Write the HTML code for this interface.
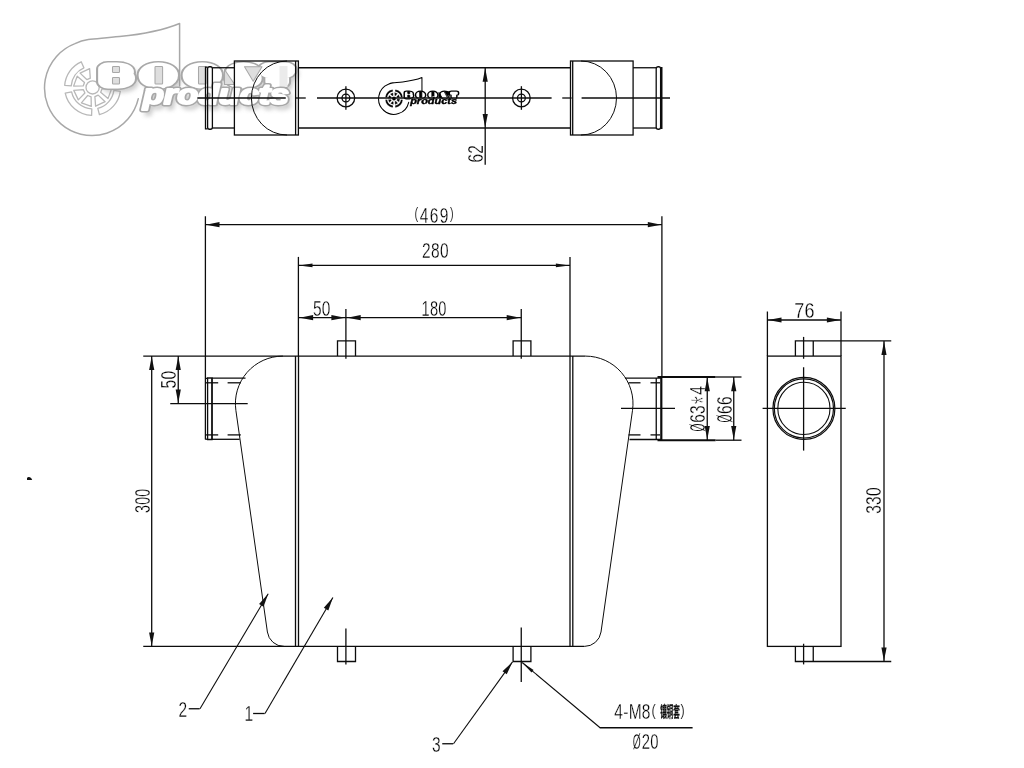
<!DOCTYPE html>
<html lang="en">
<head>
<meta charset="utf-8">
<title>Intercooler drawing</title>
<style>
html,body{margin:0;padding:0;background:#fff;}
body{width:1024px;height:768px;overflow:hidden;}
svg{display:block;}
.d line,.d path,.d rect,.d circle{fill:none;stroke:#0c0c0c;stroke-width:1.3;}
.d .ar{fill:#111;stroke:none;}
.d text{font-family:"Liberation Sans","Noto Sans CJK SC",sans-serif;fill:#000;stroke:#fff;stroke-width:0.3px;paint-order:fill stroke;letter-spacing:0.4px;}
.d .par{stroke-width:0.2px;}
.d .ast{stroke-width:1.0px;}
.d .c{font-family:"Liberation Sans","Noto Sans CJK SC",sans-serif;fill:#111;stroke:#111;stroke-width:0.3px;font-weight:bold;letter-spacing:0;}
</style>
</head>
<body>
<svg width="1024" height="768" viewBox="0 0 1024 768">
<rect width="1024" height="768" fill="#fff"/>
<defs><filter id="wblur" x="-20%" y="-50%" width="140%" height="200%"><feGaussianBlur stdDeviation="2.2"/></filter></defs>
<g opacity="0.999"><g transform="translate(0,0)" fill="none" stroke-linejoin="round" stroke-linecap="round">
<path d="M179.6,86 V23.5 C165,29.5 140,34.5 119.5,36.6 C106,38 96,38.6 88.25,39.5 C83,40.2 79,41.6 75,43.65 A47.5,47.5 0 1 0 138.3,98.7" stroke="#a8a8a8" stroke-width="1.5"/>
<path d="M120.3,91.3 A28,28 0 0 1 99.4,114.6 L97.8,108.3 A21.5,21.5 0 0 0 113.9,90.4 Z" stroke="#b8b8b8" stroke-width="1.3" fill="#ffffff"/>
<path d="M91.6,115.4 A28,28 0 0 1 65.2,93.2 L71.6,91.9 A21.5,21.5 0 0 0 91.8,108.9 Z" stroke="#b8b8b8" stroke-width="1.3" fill="#ffffff"/>
<path d="M64.7,85.4 A28,28 0 0 1 81.2,61.8 L83.9,67.8 A21.5,21.5 0 0 0 71.2,85.9 Z" stroke="#b8b8b8" stroke-width="1.3" fill="#ffffff"/>
<polygon points="102.0,88.9 111.6,88.7 108.0,98.6 100.7,92.3" stroke="#b8b8b8" stroke-width="1.3" fill="#ffffff"/>
<polygon points="98.2,95.1 105.1,101.7 95.6,106.2 94.9,96.6" stroke="#b8b8b8" stroke-width="1.3" fill="#ffffff"/>
<polygon points="91.1,96.8 91.3,106.4 81.4,102.8 87.7,95.5" stroke="#b8b8b8" stroke-width="1.3" fill="#ffffff"/>
<polygon points="84.9,93.0 78.3,99.9 73.8,90.4 83.4,89.7" stroke="#b8b8b8" stroke-width="1.3" fill="#ffffff"/>
<polygon points="83.2,85.9 73.6,86.1 77.2,76.2 84.5,82.5" stroke="#b8b8b8" stroke-width="1.3" fill="#ffffff"/>
<polygon points="87.0,79.7 80.1,73.1 89.6,68.6 90.3,78.2" stroke="#b8b8b8" stroke-width="1.3" fill="#ffffff"/>
<circle cx="92.6" cy="87.4" r="6.6" stroke="#b8b8b8" stroke-width="1.3" fill="#ffffff"/>
<g filter="url(#wblur)" opacity="0.42" transform="translate(3.5,4.5)" font-family="Liberation Sans, sans-serif" font-weight="bold" fill="#8a8a8a" stroke="#8a8a8a" stroke-linejoin="round"><text transform="scale(1.5,1)" x="77.47 105.53 134.87 162.4 184.8" y="81.6" font-size="19" text-anchor="middle" stroke-width="13">BOOST</text><text x="143" y="104" font-size="27" textLength="146" lengthAdjust="spacingAndGlyphs" font-style="italic" stroke-width="2">products</text></g>
<text transform="scale(1.5,1)" x="77.47 105.53 134.87 162.40 184.80" y="81.6" font-size="19" text-anchor="middle" font-family="Liberation Sans, sans-serif" font-weight="bold" stroke="#a8a8a8" stroke-width="15.80" fill="#a8a8a8">BOOST</text>
<text transform="scale(1.5,1)" x="77.47 105.53 134.87 162.40 184.80" y="81.6" font-size="19" text-anchor="middle" font-family="Liberation Sans, sans-serif" font-weight="bold" stroke="#ffffff" stroke-width="13.00" fill="#ffffff">BOOST</text>
<rect x="112.5" y="66.5" width="7.0" height="6" rx="0.8" fill="#dedede" stroke="#a8a8a8" stroke-width="1.04"/>
<rect x="112.5" y="77.5" width="7.0" height="6.5" rx="0.8" fill="#dedede" stroke="#a8a8a8" stroke-width="1.04"/>
<rect x="155.0" y="66.5" width="7.6" height="17.5" rx="0.8" fill="#dedede" stroke="#a8a8a8" stroke-width="1.04"/>
<rect x="198.5" y="66.5" width="7.6" height="17.5" rx="0.8" fill="#dedede" stroke="#a8a8a8" stroke-width="1.04"/>
<path d="M224.5,69.5 L234.0,83.5 V84.5 H224.5 Z" fill="#dedede" stroke="#a8a8a8" stroke-width="1.04"/>
<path d="M244.5,66.7 H262.0 L253.2,81.3 Z" fill="#dedede" stroke="#a8a8a8" stroke-width="1.04"/>
<rect x="279.5" y="66" width="8" height="21" fill="#ebebeb" stroke="none"/>
<text x="143" y="104" font-size="27" textLength="146" lengthAdjust="spacingAndGlyphs" font-family="Liberation Sans, sans-serif" font-weight="bold" font-style="italic" stroke="#a8a8a8" stroke-width="4.8" fill="#a8a8a8">products</text>
<text x="143" y="104" font-size="27" textLength="146" lengthAdjust="spacingAndGlyphs" font-family="Liberation Sans, sans-serif" font-weight="bold" font-style="italic" stroke="#ffffff" stroke-width="2.0" fill="#ffffff">products</text>
</g></g>

<g opacity="0.999"><g transform="translate(364.3,69.9) scale(0.321,0.328)" fill="none" stroke-linejoin="round" stroke-linecap="round">
<path d="M179.6,86 V23.5 C165,29.5 140,34.5 119.5,36.6 C106,38 96,38.6 88.25,39.5 C83,40.2 79,41.6 75,43.65 A47.5,47.5 0 1 0 138.3,98.7" stroke="#000" stroke-width="3.2"/>
<path d="M120.3,91.3 A28,28 0 0 1 96.5,115.1 L95.6,108.7 A21.5,21.5 0 0 0 113.9,90.4 Z" stroke="#fff" stroke-width="1.0" fill="#000"/>
<path d="M88.7,115.1 A28,28 0 0 1 64.9,91.3 L71.3,90.4 A21.5,21.5 0 0 0 89.6,108.7 Z" stroke="#fff" stroke-width="1.0" fill="#000"/>
<path d="M64.9,83.5 A28,28 0 0 1 88.7,59.7 L89.6,66.1 A21.5,21.5 0 0 0 71.3,84.4 Z" stroke="#fff" stroke-width="1.0" fill="#000"/>
<path d="M96.5,59.7 A28,28 0 0 1 120.3,83.5 L113.9,84.4 A21.5,21.5 0 0 0 95.6,66.1 Z" stroke="#fff" stroke-width="1.0" fill="#000"/>
<polygon points="102.0,88.9 111.6,88.7 108.0,98.6 100.7,92.3" stroke="#fff" stroke-width="1.0" fill="#000"/>
<polygon points="98.2,95.1 105.1,101.7 95.6,106.2 94.9,96.6" stroke="#fff" stroke-width="1.0" fill="#000"/>
<polygon points="91.1,96.8 91.3,106.4 81.4,102.8 87.7,95.5" stroke="#fff" stroke-width="1.0" fill="#000"/>
<polygon points="84.9,93.0 78.3,99.9 73.8,90.4 83.4,89.7" stroke="#fff" stroke-width="1.0" fill="#000"/>
<polygon points="83.2,85.9 73.6,86.1 77.2,76.2 84.5,82.5" stroke="#fff" stroke-width="1.0" fill="#000"/>
<polygon points="87.0,79.7 80.1,73.1 89.6,68.6 90.3,78.2" stroke="#fff" stroke-width="1.0" fill="#000"/>
<polygon points="94.1,78.0 93.9,68.4 103.8,72.0 97.5,79.3" stroke="#fff" stroke-width="1.0" fill="#000"/>
<polygon points="100.3,81.8 106.9,74.9 111.4,84.4 101.8,85.1" stroke="#fff" stroke-width="1.0" fill="#000"/>
<circle cx="92.6" cy="87.4" r="6.6" stroke="#fff" stroke-width="1.0" fill="#000"/>
<text transform="scale(1.308,1)" x="106.09 134.16 163.49 191.02 213.42" y="81.6" font-size="19" text-anchor="middle" font-family="Liberation Sans, sans-serif" font-weight="bold" stroke="#000" stroke-width="14.70" fill="#000">BOOST</text>
<text transform="scale(1.308,1)" x="106.09 134.16 163.49 191.02 213.42" y="81.6" font-size="19" text-anchor="middle" font-family="Liberation Sans, sans-serif" font-weight="bold" stroke="#fff" stroke-width="7.50" fill="#fff">BOOST</text>
<rect x="135.5" y="66.5" width="6.1" height="6" rx="0.8" fill="#000" stroke="#000" stroke-width="2.5600000000000005"/>
<rect x="135.5" y="77.5" width="6.1" height="6.5" rx="0.8" fill="#000" stroke="#000" stroke-width="2.5600000000000005"/>
<rect x="172.6" y="66.5" width="6.6" height="17.5" rx="0.8" fill="#000" stroke="#000" stroke-width="2.5600000000000005"/>
<rect x="210.5" y="66.5" width="6.6" height="17.5" rx="0.8" fill="#000" stroke="#000" stroke-width="2.5600000000000005"/>
<path d="M233.2,69.5 L241.5,83.5 V84.5 H233.2 Z" fill="#000" stroke="#000" stroke-width="2.5600000000000005"/>
<path d="M250.6,66.7 H265.9 L258.2,81.3 Z" fill="#000" stroke="#000" stroke-width="2.5600000000000005"/>
<text x="143" y="104" font-size="27" textLength="146" lengthAdjust="spacingAndGlyphs" font-family="Liberation Sans, sans-serif" font-weight="bold" font-style="italic" stroke="#fff" stroke-width="4" fill="#fff">products</text>
<text x="143" y="104" font-size="27" textLength="146" lengthAdjust="spacingAndGlyphs" font-family="Liberation Sans, sans-serif" font-weight="bold" font-style="italic" stroke="#000" stroke-width="1.2" fill="#000">products</text>
</g></g>

<g class="d" opacity="0.999">
<text class="t" transform="translate(483.2,162.6) rotate(-90) scale(0.69,1)" font-size="22.5" text-anchor="start">62</text>
<text class="t" transform="translate(705.4,431.6) rotate(-90) scale(0.69,1)" font-size="22.5" text-anchor="start"><tspan textLength="11.8" lengthAdjust="spacingAndGlyphs">Ø</tspan><tspan x="12.75" y="0">63</tspan><tspan class="ast" font-size="36" x="39.6" y="9.4" textLength="11.97" lengthAdjust="spacingAndGlyphs">*</tspan><tspan x="53.3" y="0">4</tspan></text>
<text class="t" transform="translate(731.7,422.6) rotate(-90) scale(0.69,1)" font-size="22.5" text-anchor="start"><tspan textLength="11.8" lengthAdjust="spacingAndGlyphs">Ø</tspan><tspan x="12.46" y="0">66</tspan></text>
<text class="t" transform="translate(175.6,388.5) rotate(-90) scale(0.69,1)" font-size="22.5" text-anchor="start">50</text>
<text class="t" transform="translate(149.6,512.9) rotate(-90) scale(0.63,1)" font-size="22.5" text-anchor="start">300</text>
<text class="t" transform="translate(414.4,222.6) scale(0.69,1)" font-size="22.5" text-anchor="start"><tspan font-size="16" dy="-3.2" stroke-width="0.2">(</tspan><tspan dy="3.2" dx="2" letter-spacing="2">469</tspan><tspan font-size="16" dy="-3.2" dx="0.5" stroke-width="0.2">)</tspan></text>
<text class="t" transform="translate(422.1,258.2) scale(0.69,1)" font-size="22.5" text-anchor="start">280</text>
<text class="t" transform="translate(312.9,315.8) scale(0.69,1)" font-size="22.5" text-anchor="start">50</text>
<text class="t" transform="translate(421.5,315.6) scale(0.65,1)" font-size="22.5" text-anchor="start">180</text>
<text class="t" transform="translate(178.6,716.5) scale(0.69,1)" font-size="22.5" text-anchor="start">2</text>
<text class="t" transform="translate(244.5,721.2) scale(0.69,1)" font-size="22.5" text-anchor="start">1</text>
<text class="t" transform="translate(432,751.9) scale(0.69,1)" font-size="22.5" text-anchor="start">3</text>
<text class="t" transform="translate(614.3,718.8) scale(0.69,1)" font-size="22.5" text-anchor="start">4-M8<tspan class="par" font-size="16" x="54.06" y="-3.2" textLength="6.58" lengthAdjust="spacingAndGlyphs">(</tspan><tspan class="c" font-size="14.3" x="66.5" y="-1.9" textLength="28.6" lengthAdjust="spacingAndGlyphs">镶铜套</tspan><tspan class="par" font-size="16" x="96.1" y="-3.2" textLength="6.58" lengthAdjust="spacingAndGlyphs">)</tspan></text>
<text class="t" transform="translate(632.8,749.2) scale(0.66,1)" font-size="22.5" text-anchor="start"><tspan textLength="12.3" lengthAdjust="spacingAndGlyphs">Ø</tspan><tspan x="13.6" y="0">20</tspan></text>
<text class="t" transform="translate(794.3,317.7) scale(0.8,1)" font-size="22.5" text-anchor="start">76</text>
<text class="t" transform="translate(881.1,513.8) rotate(-90) scale(0.69,1)" font-size="22.5" text-anchor="start">330</text>
<line x1="298.4" y1="67.75" x2="570.5" y2="67.75"/>
<line x1="298.4" y1="128" x2="570.5" y2="128"/>
<rect x="234.4" y="61" width="64.0" height="74"/>
<line x1="295.6" y1="61" x2="295.6" y2="135"/>
<path d="M287,61 A35.6,37 0 0 0 287,135" style="stroke-width:1.0" />
<line x1="212.4" y1="67.75" x2="234.4" y2="67.75"/>
<line x1="212.4" y1="128" x2="234.4" y2="128"/>
<rect x="207.6" y="66.75" width="4.8" height="62.5" rx="2"/>
<path d="M207.6,67.2 H205.5 V128.8 H207.6" />
<rect x="570.5" y="61" width="62.6" height="74"/>
<line x1="572.7" y1="61" x2="572.7" y2="135"/>
<path d="M581,61 A35.5,37 0 0 1 581,135" style="stroke-width:1.0" />
<line x1="633.1" y1="67.75" x2="656.2" y2="67.75"/>
<line x1="633.1" y1="128" x2="656.2" y2="128"/>
<rect x="656.2" y="66.75" width="4.4" height="62.5" rx="2"/>
<line x1="661.7" y1="67" x2="661.7" y2="129" style="stroke-width:1.6"/>
<circle cx="345.9" cy="98" r="8.8"/>
<circle cx="345.9" cy="98" r="3.9"/>
<line x1="345.9" y1="86.2" x2="345.9" y2="109.8"/>
<circle cx="521.4" cy="98" r="8.8"/>
<circle cx="521.4" cy="98" r="3.9"/>
<line x1="521.4" y1="86.2" x2="521.4" y2="109.8"/>
<line x1="197.4" y1="98" x2="285.75" y2="98"/>
<line x1="295.2" y1="98" x2="305.75" y2="98"/>
<line x1="317" y1="98" x2="551.6" y2="98"/>
<line x1="562.25" y1="98" x2="571.6" y2="98"/>
<line x1="581.6" y1="98" x2="670" y2="98"/>
<line x1="485.2" y1="67.75" x2="485.2" y2="164.75"/>
<polygon class="ar" points="485.20,68.30 487.80,81.80 482.60,81.80"/>
<polygon class="ar" points="485.20,127.50 482.60,114.00 487.80,114.00"/>
<line x1="143.25" y1="356.1" x2="585.5" y2="356.1"/>
<line x1="143.25" y1="646.4" x2="584.4" y2="646.4"/>
<line x1="295.5" y1="356.1" x2="295.5" y2="646.4"/>
<line x1="298.5" y1="356.1" x2="298.5" y2="646.4"/>
<line x1="570" y1="356.1" x2="570" y2="646.4"/>
<line x1="572.8" y1="356.1" x2="572.8" y2="646.4"/>
<line x1="205.4" y1="216.25" x2="205.4" y2="439.5"/>
<line x1="298.4" y1="256.9" x2="298.4" y2="356.1"/>
<line x1="570" y1="256.9" x2="570" y2="356.1"/>
<line x1="661.9" y1="216.25" x2="661.9" y2="377"/>
<path d="M282.9,356.1 A47.5,47.5 0 0 0 235.87,410.28 L267.4,632 A16.7,16.7 0 0 0 284,646.4" style="stroke-width:1.0" />
<path d="M585.5,356.1 A47.5,47.5 0 0 1 632.53,410.28 L601.0,632 A16.7,16.7 0 0 1 584.4,646.4" style="stroke-width:1.0" />
<line x1="212" y1="378.2" x2="245.5" y2="378.2"/>
<line x1="212" y1="439.3" x2="239.6" y2="439.3"/>
<path d="M212,378 H207.6 V439.5 H212 Z" />
<path d="M207.6,378.4 H205.4" />
<path d="M207.6,439.2 H205.4" />
<line x1="212" y1="378" x2="212" y2="439.5"/>
<line x1="205.4" y1="382.8" x2="218.2" y2="382.8"/>
<line x1="227.6" y1="382.8" x2="240.8" y2="382.8"/>
<line x1="205.4" y1="434.9" x2="218.2" y2="434.9"/>
<line x1="227.6" y1="434.9" x2="240.8" y2="434.9"/>
<line x1="625" y1="378.2" x2="661.9" y2="378.2"/>
<line x1="629.5" y1="439.5" x2="661.9" y2="439.5"/>
<line x1="656.25" y1="378" x2="656.25" y2="439.7"/>
<line x1="661.3" y1="377" x2="661.3" y2="440.2" style="stroke-width:2.2"/>
<line x1="628.5" y1="382.8" x2="640.5" y2="382.8"/>
<line x1="650.5" y1="382.8" x2="660" y2="382.8"/>
<line x1="628.5" y1="434.9" x2="640.5" y2="434.9"/>
<line x1="650.5" y1="434.9" x2="660" y2="434.9"/>
<line x1="621" y1="408.45" x2="675" y2="408.45"/>
<line x1="657.5" y1="377" x2="715.6" y2="377" style="stroke-width:2.0"/>
<line x1="715.6" y1="377" x2="741.5" y2="377"/>
<line x1="657.5" y1="440.2" x2="715.6" y2="440.2" style="stroke-width:2.0"/>
<line x1="715.6" y1="440.2" x2="741.5" y2="440.2"/>
<line x1="707.25" y1="377" x2="707.25" y2="440.2"/>
<polygon class="ar" points="707.25,377.80 709.85,391.30 704.65,391.30"/>
<polygon class="ar" points="707.25,439.50 704.65,426.00 709.85,426.00"/>
<line x1="733.75" y1="377" x2="733.75" y2="440.2"/>
<polygon class="ar" points="733.75,377.80 736.35,391.30 731.15,391.30"/>
<polygon class="ar" points="733.75,439.50 731.15,426.00 736.35,426.00"/>
<line x1="170.25" y1="403.6" x2="247.7" y2="403.6"/>
<line x1="178.25" y1="356.1" x2="178.25" y2="403.6"/>
<polygon class="ar" points="178.25,356.60 180.85,370.10 175.65,370.10"/>
<polygon class="ar" points="178.25,403.10 175.65,389.60 180.85,389.60"/>
<line x1="151.7" y1="356.1" x2="151.7" y2="646.4"/>
<polygon class="ar" points="151.70,356.60 154.30,370.10 149.10,370.10"/>
<polygon class="ar" points="151.70,645.90 149.10,632.40 154.30,632.40"/>
<path d="M337.5,356.1 V340.9 H355.5 V356.1" />
<path d="M337.5,646.4 V661.5 H355.5 V646.4" />
<line x1="345.9" y1="309" x2="345.9" y2="358.75"/>
<path d="M513.1,356.1 V340.9 H530.9 V356.1" />
<path d="M513.1,646.4 V661.5 H530.9 V646.4" />
<line x1="521.25" y1="309" x2="521.25" y2="358.75"/>
<line x1="345.9" y1="628.5" x2="345.9" y2="664.4"/>
<line x1="521.25" y1="627.5" x2="521.25" y2="681.9"/>
<line x1="205.4" y1="224.7" x2="661.9" y2="224.7"/>
<polygon class="ar" points="206.00,224.70 219.50,222.10 219.50,227.30"/>
<polygon class="ar" points="661.30,224.70 647.80,227.30 647.80,222.10"/>
<line x1="298.4" y1="265.4" x2="570" y2="265.4"/>
<polygon class="ar" points="299.00,265.40 312.50,263.60 312.50,267.20"/>
<polygon class="ar" points="569.40,265.40 555.90,267.20 555.90,263.60"/>
<line x1="298.4" y1="317.7" x2="521.25" y2="317.7"/>
<polygon class="ar" points="299.60,317.70 313.10,315.10 313.10,320.30"/>
<polygon class="ar" points="344.90,317.70 331.40,320.30 331.40,315.10"/>
<polygon class="ar" points="347.20,317.70 360.70,315.10 360.70,320.30"/>
<polygon class="ar" points="520.20,317.70 506.70,320.30 506.70,315.10"/>
<path d="M268.2,593.7 L200,708.75" style="stroke-width:1.1" />
<path d="M199.7,708.75 H188.75" />
<polygon class="ar" points="268.20,593.70 263.55,606.64 259.08,603.99"/>
<path d="M332.9,597.5 L265,713.5" style="stroke-width:1.1" />
<path d="M264.7,713.5 H253.1" />
<polygon class="ar" points="332.90,597.50 328.32,610.46 323.84,607.84"/>
<path d="M512.5,661.9 L453.5,743.75" style="stroke-width:1.1" />
<path d="M453.2,743.75 H442.25" />
<polygon class="ar" points="512.50,661.90 506.72,674.37 502.50,671.33"/>
<path d="M522.2,662.5 L600.1,727.75" style="stroke-width:1.1" />
<path d="M599.8000000000001,727.75 H692.6" />
<polygon class="ar" points="522.20,662.50 533.58,669.94 531.52,672.40"/>
<rect x="767.4" y="356.1" width="73.6" height="290.3"/>
<line x1="767.4" y1="311.5" x2="767.4" y2="356.1"/>
<line x1="841" y1="311.5" x2="841" y2="356.1"/>
<line x1="767.4" y1="320" x2="841" y2="320"/>
<polygon class="ar" points="768.00,320.00 781.50,317.40 781.50,322.60"/>
<polygon class="ar" points="840.40,320.00 826.90,322.60 826.90,317.40"/>
<path d="M795.4,356.1 V340.9 H891.25" />
<line x1="813.25" y1="340.9" x2="813.25" y2="356.1"/>
<path d="M795.4,646.4 V661.5 H891.25" />
<line x1="813.25" y1="661.5" x2="813.25" y2="646.4"/>
<line x1="803.6" y1="336.9" x2="803.6" y2="358.75"/>
<line x1="803.6" y1="367.25" x2="803.6" y2="450.6"/>
<line x1="803.6" y1="643.75" x2="803.6" y2="664.4"/>
<circle cx="803.9" cy="408.4" r="31.0" style="stroke-width:1.2"/>
<circle cx="803.9" cy="408.4" r="29.6" style="stroke-width:1.2"/>
<circle cx="803.9" cy="408.4" r="26.1" style="stroke-width:1.1"/>
<line x1="762.6" y1="408.45" x2="845.75" y2="408.45"/>
<line x1="884" y1="340.9" x2="884" y2="661.5"/>
<polygon class="ar" points="884.00,341.40 886.60,354.90 881.40,354.90"/>
<polygon class="ar" points="884.00,661.00 881.40,647.50 886.60,647.50"/>
<path class="ar" d="M27,480 V478 Q28,476.6 30,477.3 Q31.5,478 32.2,480 Z"/>
</g>
</svg>
</body>
</html>
